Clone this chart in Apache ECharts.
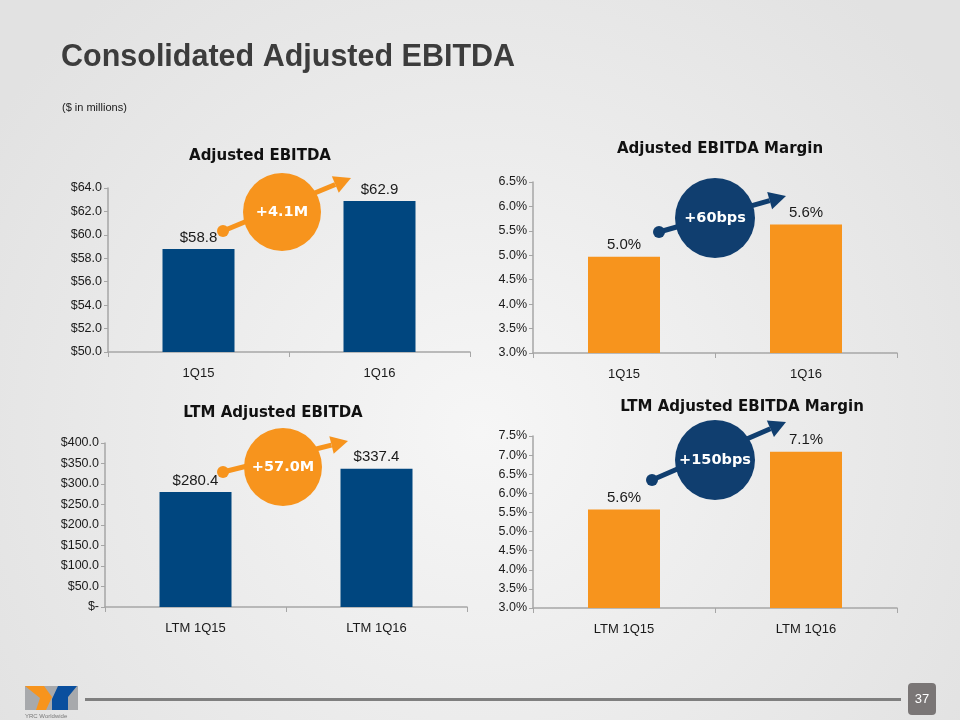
<!DOCTYPE html>
<html><head><meta charset="utf-8">
<script src="https://cdn.jsdelivr.net/npm/echarts@6/dist/echarts.min.js"></script>
<style>html,body{margin:0;padding:0;}#c{width:960px;height:720px;}</style>
</head><body><div id="c"></div>
<script>
// Data
const quarterCats = ['1Q15', '1Q16'];
const ltmCats = ['LTM 1Q15', 'LTM 1Q16'];
const adjEbitda = [58.8, 62.9];
const adjMargin = [4.97, 5.63];
const ltmEbitda = [280.4, 337.4];
const ltmMargin = [5.58, 7.09];
const chartTitles = ['Adjusted EBITDA', 'Adjusted EBITDA Margin', 'LTM Adjusted EBITDA', 'LTM Adjusted EBITDA Margin'];
const changeLabels = ['+4.1M', '+60bps', '+57.0M', '+150bps'];

const NAVY = '#00467f', ORANGE = '#f7941d', CIRCLE_NAVY = '#103e6f';
const FONT = '"Liberation Sans", Arial, sans-serif';
const HEAVY = '"DejaVu Sans", "Liberation Sans", sans-serif';

const chart = echarts.init(document.getElementById('c'), null, {renderer: 'canvas'});

const grids = [
  {left: 108, top: 188, width: 362, height: 164},
  {left: 533, top: 182, width: 364, height: 171},
  {left: 105, top: 443, width: 362, height: 164},
  {left: 533, top: 436, width: 364, height: 172}
];
const dollar = v => v === 0 ? '$-' : '$' + v.toFixed(1);
const pct = v => v.toFixed(1) + '%';
const yCfg = [
  {min: 50, max: 64, interval: 2, fmt: dollar},
  {min: 3, max: 6.5, interval: 0.5, fmt: pct},
  {min: 0, max: 400, interval: 50, fmt: dollar},
  {min: 3, max: 7.5, interval: 0.5, fmt: pct}
];
const seriesData = [adjEbitda, adjMargin, ltmEbitda, ltmMargin];
const catsFor = [quarterCats, quarterCats, ltmCats, ltmCats];
const colors = [NAVY, ORANGE, NAVY, ORANGE];

const xAxes = grids.map((g, i) => ({
  type: 'category', gridIndex: i, data: catsFor[i],
  axisLine: {lineStyle: {color: '#a6a6a6', width: 1.5}},
  axisTick: {show: true, length: 5, lineStyle: {color: '#a6a6a6'}},
  axisLabel: {color: '#1a1a1a', fontSize: 13, fontFamily: FONT, margin: 15}
}));
const yAxes = grids.map((g, i) => ({
  type: 'value', gridIndex: i, min: yCfg[i].min, max: yCfg[i].max, interval: yCfg[i].interval,
  splitLine: {show: false},
  axisLine: {show: true, lineStyle: {color: '#a6a6a6', width: 1.5}},
  axisTick: {show: true, length: 4, lineStyle: {color: '#a6a6a6'}},
  axisLabel: {color: '#1a1a1a', fontSize: 12.5, fontFamily: FONT, margin: 6, formatter: yCfg[i].fmt}
}));
const series = grids.map((g, i) => ({
  type: 'bar', xAxisIndex: i, yAxisIndex: i, data: seriesData[i], barWidth: 72,
  itemStyle: {color: colors[i]},
  label: {show: true, position: 'top', distance: 4, color: '#1a1a1a', fontSize: 15, fontFamily: FONT,
    formatter: p => yCfg[i].fmt(p.value)}
}));

function arrow(x1, y1, x2, y2, color) {
  const ang = Math.atan2(y2 - y1, x2 - x1);
  const L = 17, W = 9;
  const bx = x2 - L * Math.cos(ang), by = y2 - L * Math.sin(ang);
  const px = -Math.sin(ang), py = Math.cos(ang);
  return [
    {type: 'line', shape: {x1, y1, x2: bx, y2: by}, style: {stroke: color, lineWidth: 5}, z: 10},
    {type: 'circle', shape: {cx: x1, cy: y1, r: 6}, style: {fill: color}, z: 10},
    {type: 'polygon', shape: {points: [[x2, y2], [bx + px * W, by + py * W], [bx - px * W, by - py * W]]}, style: {fill: color}, z: 10}
  ];
}
function badge(cx, cy, r, color, text) {
  return [
    {type: 'circle', shape: {cx, cy, r}, style: {fill: color}, z: 11},
    {type: 'text', x: cx, y: cy, style: {text, fill: '#fff', font: 'bold 14.5px ' + HEAVY, align: 'center', verticalAlign: 'middle'}, z: 12}
  ];
}
const titlePos = [[260, 156], [720, 149], [273, 413], [742, 407]];

const graphic = [
  {type: 'text', left: 61, top: 42, style: {text: 'Consolidated Adjusted EBITDA', fill: '#3c3c3c', font: 'bold 30.5px ' + FONT}},
  {type: 'text', left: 62, top: 102, style: {text: '($ in millions)', fill: '#1a1a1a', font: '11px ' + FONT}},
  ...chartTitles.map((t, i) => ({type: 'text', x: titlePos[i][0], y: titlePos[i][1],
    style: {text: t, fill: '#111', font: 'bold 15px ' + HEAVY, align: 'center', verticalAlign: 'middle'}})),
  ...arrow(223, 231, 351, 178, ORANGE), ...badge(282, 212, 39, ORANGE, changeLabels[0]),
  ...arrow(659, 232, 786, 196, CIRCLE_NAVY), ...badge(715, 218, 40, CIRCLE_NAVY, changeLabels[1]),
  ...arrow(223, 472, 348, 441, ORANGE), ...badge(283, 467, 39, ORANGE, changeLabels[2]),
  ...arrow(652, 480, 786, 422, CIRCLE_NAVY), ...badge(715, 460, 40, CIRCLE_NAVY, changeLabels[3]),
  // footer
  {type: 'rect', shape: {x: 85, y: 698, width: 816, height: 3}, style: {fill: '#7f7f7f'}},
  {type: 'rect', shape: {x: 908, y: 683, width: 28, height: 32, r: 4}, style: {fill: '#7a7676'}},
  {type: 'text', x: 922, y: 699, style: {text: '37', fill: '#fff', font: '13px ' + FONT, align: 'center', verticalAlign: 'middle'}},
  {type: 'polygon', shape: {points: [[25, 686], [78, 686], [78, 710], [25, 710]]}, style: {fill: '#a7a9ac'}},
  {type: 'polygon', shape: {points: [[25, 686], [44, 686], [52, 697], [46, 710], [36, 710], [40, 698]]}, style: {fill: ORANGE}},
  {type: 'polygon', shape: {points: [[58, 686], [77, 686], [68, 697], [68, 710], [52, 710], [52, 699]]}, style: {fill: '#0a4f9e'}},
  {type: 'text', x: 25, y: 713, style: {text: 'YRC Worldwide', fill: '#777', font: '6px ' + FONT}}
];

chart.setOption({
  backgroundColor: {type: 'radial', x: 0.5, y: 0.6, r: 0.8,
    colorStops: [{offset: 0, color: '#f6f6f6'}, {offset: 1, color: '#e2e2e2'}]},
  animation: false,
  grid: grids,
  xAxis: xAxes,
  yAxis: yAxes,
  series: series,
  graphic: graphic
});
</script></body></html>
